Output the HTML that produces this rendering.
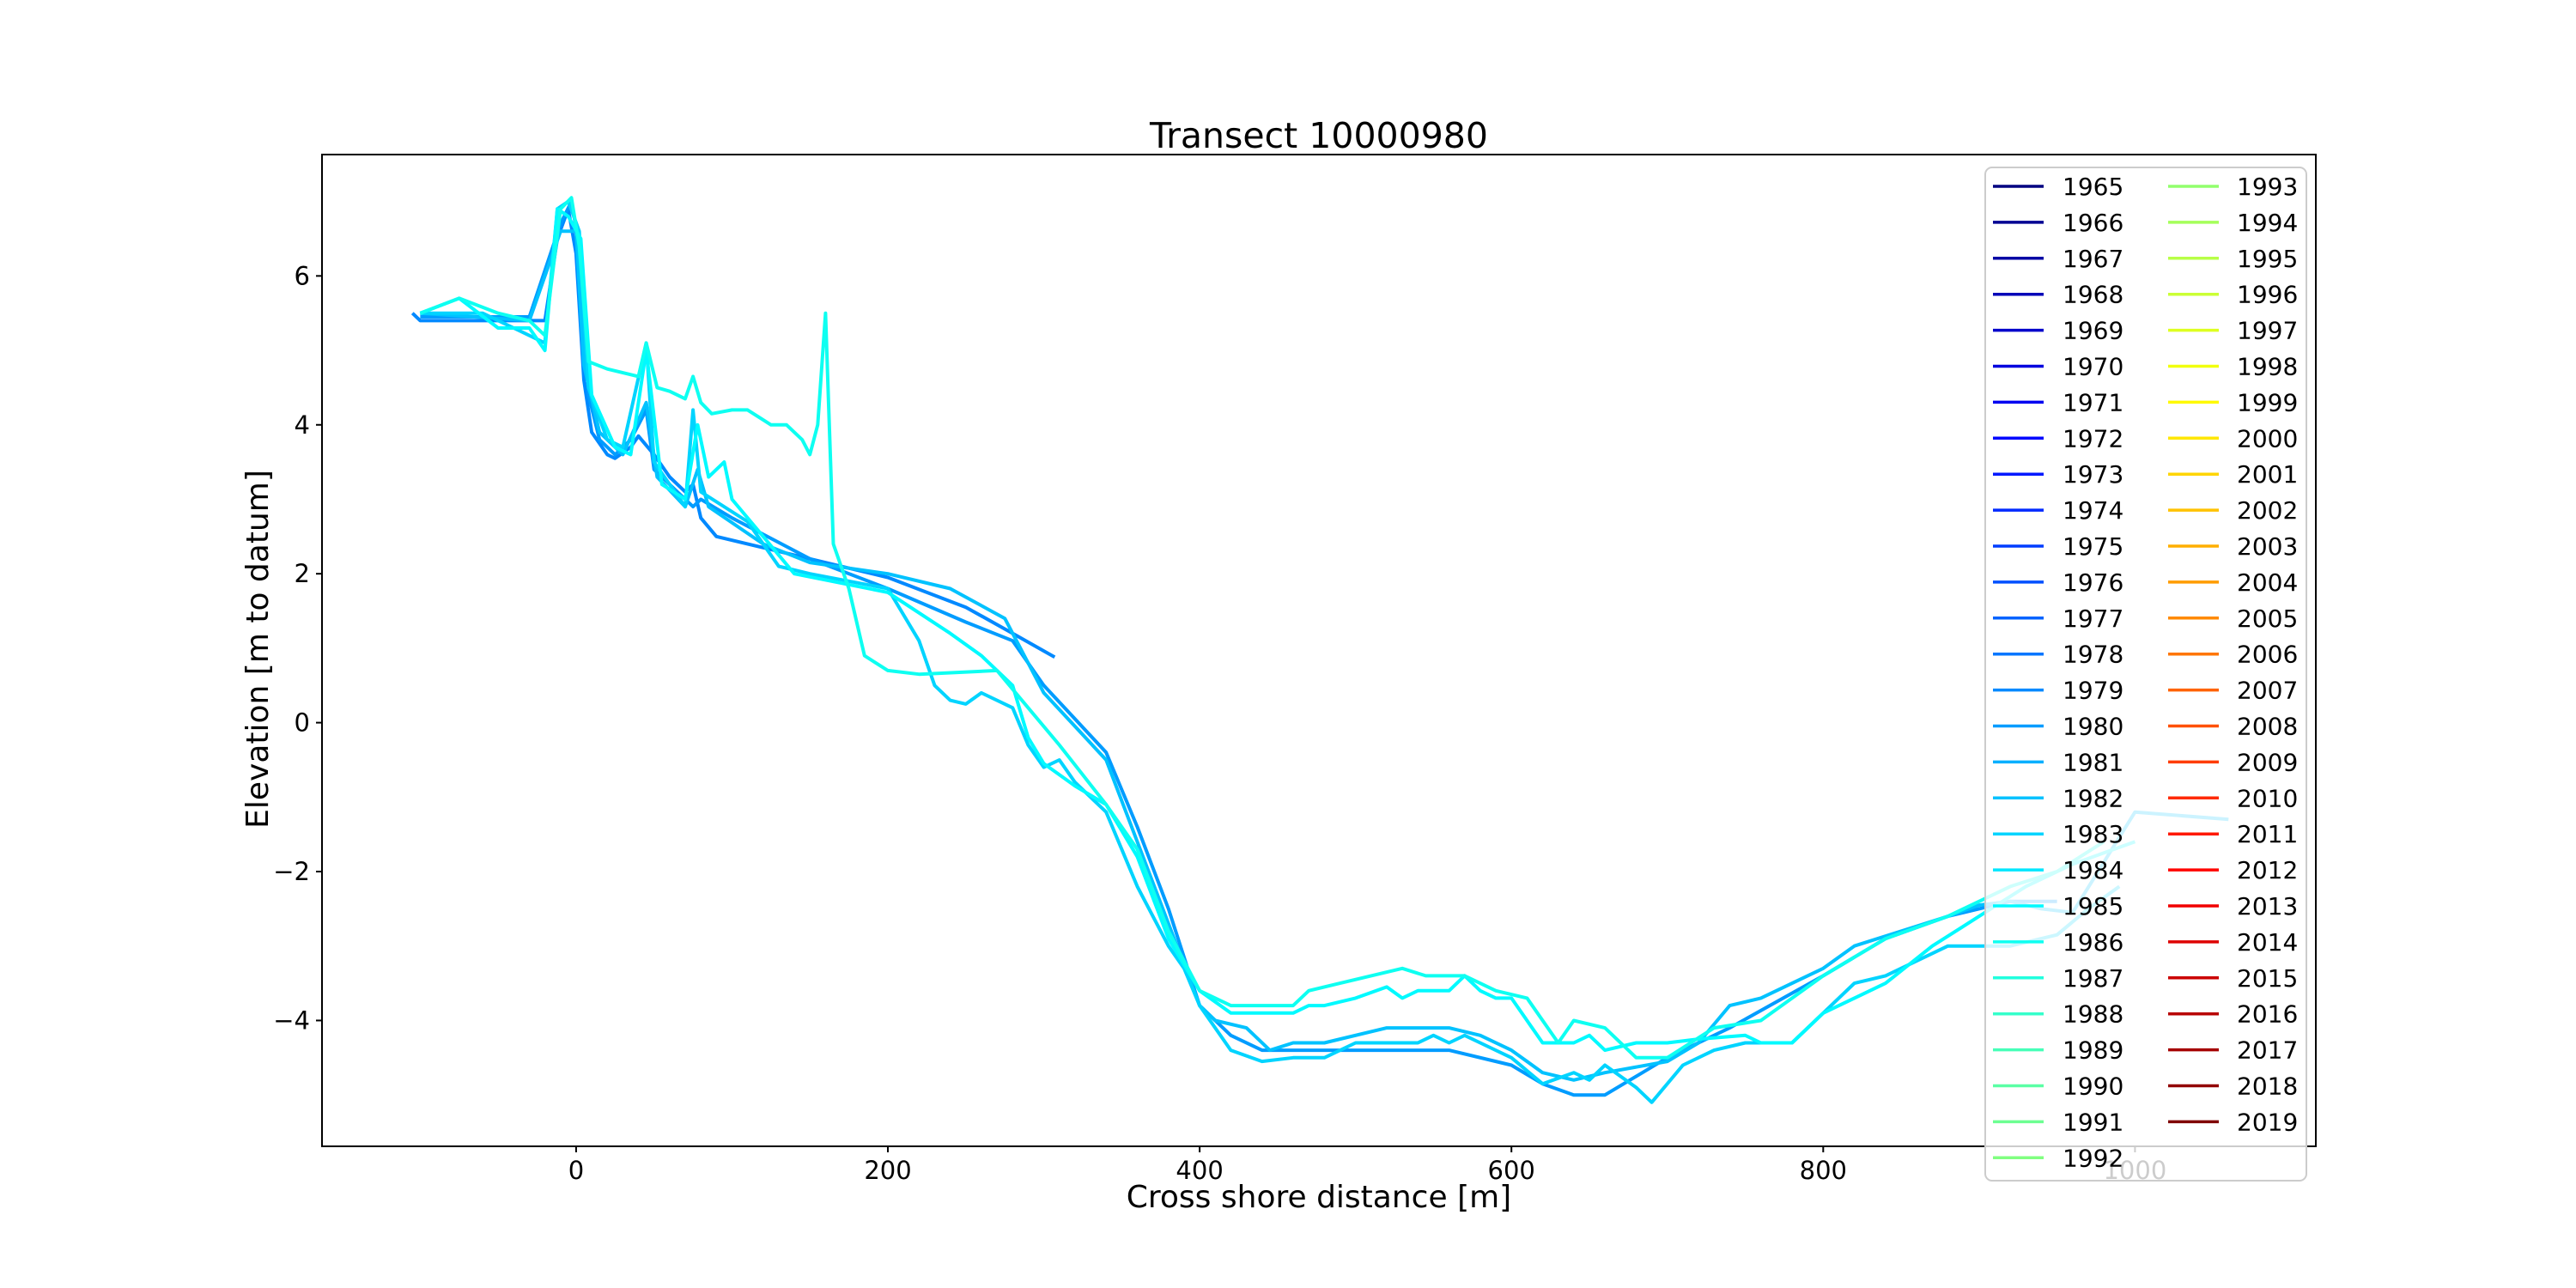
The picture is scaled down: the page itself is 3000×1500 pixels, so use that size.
<!DOCTYPE html>
<html><head><meta charset="utf-8"><style>
html,body{margin:0;padding:0;background:#fff;}
svg{display:block;font-family:"DejaVu Sans","Liberation Sans",sans-serif;}
</style></head><body>
<svg id="chart" width="3000" height="1500" viewBox="0 0 3000 1500" xmlns="http://www.w3.org/2000/svg">
<rect width="3000" height="1500" fill="#fff"/>
<text x="1536" y="172" font-size="41" text-anchor="middle">Transect 10000980</text>
<text x="1536" y="1406" font-size="36" text-anchor="middle">Cross shore distance [m]</text>
<text transform="translate(312,756) rotate(-90)" font-size="36" text-anchor="middle">Elevation [m to datum]</text>
<g id="series"></g>
<g id="axes"></g>
<g id="legend"></g>
</svg>
<script>
const xTicks=[0,200,400,600,800,1000];
const yTicks=[-4,-2,0,2,4,6];
const years=[];for(let y=1965;y<=2019;y++)years.push(y);
const seriesYears=[1979,1980,1982,1983,1985,1986];
const sA_x=[-105,-100,-30,-20,-12,-5,0,5,10,20,25,35,40,50,60,70,75,80,90,150,200,250,280,307];
const sA_y=[5.5,5.4,5.4,5.4,6.5,6.9,6.3,4.6,3.9,3.6,3.55,3.7,3.85,3.6,3.3,3.1,3.2,2.75,2.5,2.2,1.95,1.55,1.2,0.88];
const sB_x=[-100,-30,-10,-3,2,8,15,25,35,45,50,65,75,80,100,150,200,250,280,300,320,340,360,380,400,420,440,460,560,600,620,640,660,700,740,800,840,880,920,950];
const sB_y=[5.45,5.45,6.7,7.0,6.4,4.4,3.8,3.6,3.8,4.2,3.4,3.1,2.9,3.0,2.75,2.2,1.8,1.35,1.1,0.5,0.05,-0.4,-1.4,-2.5,-3.8,-4.2,-4.4,-4.4,-4.4,-4.6,-4.85,-5.0,-5.0,-4.5,-4.1,-3.4,-2.9,-2.6,-2.4,-2.4];
const sC_x=[-100,-30,-10,0,5,15,30,45,52,70,78,85,120,150,200,240,275,300,320,340,360,380,400,410,430,445,460,480,520,560,580,600,620,640,660,700,720,740,760,800,820,850,880,900,920,940,960,1000,1060];
const sC_y=[5.5,5.4,6.6,6.6,4.8,3.9,3.6,4.3,3.3,2.9,3.4,2.9,2.4,2.15,2.0,1.8,1.4,0.4,-0.05,-0.5,-1.6,-2.7,-3.8,-4.0,-4.1,-4.4,-4.3,-4.3,-4.1,-4.1,-4.2,-4.4,-4.7,-4.8,-4.7,-4.55,-4.3,-3.8,-3.7,-3.3,-3.0,-2.8,-2.6,-2.45,-2.4,-2.5,-2.55,-1.2,-1.3];
const sD_x=[-100,-60,-40,-20,-12,-5,2,8,20,30,45,50,70,75,80,110,130,150,200,220,230,240,250,260,280,290,300,310,320,340,360,380,390,400,420,440,460,480,500,540,550,560,570,580,600,620,640,650,660,680,690,710,730,750,780,800,820,840,880,920,950,970,990];
const sD_y=[5.5,5.5,5.3,5.1,6.9,7.0,6.6,4.5,3.8,3.7,5.1,3.5,2.9,4.2,3.1,2.7,2.1,2.0,1.8,1.1,0.5,0.3,0.25,0.4,0.2,-0.3,-0.6,-0.5,-0.8,-1.2,-2.2,-3.0,-3.3,-3.8,-4.4,-4.55,-4.5,-4.5,-4.3,-4.3,-4.2,-4.3,-4.2,-4.3,-4.5,-4.85,-4.7,-4.8,-4.6,-4.9,-5.1,-4.6,-4.4,-4.3,-4.3,-3.9,-3.5,-3.4,-3.0,-3.0,-2.85,-2.5,-2.2];
const sE_x=[-100,-75,-50,-30,-20,-12,-5,3,10,25,35,45,55,70,78,85,95,100,120,140,200,240,260,280,290,300,320,340,360,380,400,420,460,470,480,500,520,530,540,560,570,580,590,600,620,640,650,660,680,700,720,750,760,780,800,840,870,900,930,960,1000];
const sE_y=[5.5,5.7,5.3,5.3,5.0,6.9,6.8,6.5,4.4,3.7,3.6,5.0,3.2,3.0,4.0,3.3,3.5,3.0,2.5,2.0,1.75,1.2,0.9,0.5,-0.2,-0.55,-0.85,-1.1,-1.8,-2.9,-3.6,-3.9,-3.9,-3.8,-3.8,-3.7,-3.55,-3.7,-3.6,-3.6,-3.4,-3.6,-3.7,-3.7,-4.3,-4.3,-4.2,-4.4,-4.3,-4.3,-4.25,-4.2,-4.3,-4.3,-3.9,-3.5,-3.0,-2.6,-2.2,-1.9,-1.6];
const sF_x=[-100,-75,-50,-30,-20,-10,-3,2,8,20,40,45,52,60,70,75,80,87,100,110,125,135,145,150,155,160,165,175,185,200,220,270,290,310,340,360,380,400,420,460,470,490,510,530,545,570,590,610,630,640,660,680,700,730,760,800,840,880,920,950,980];
const sF_y=[5.5,5.7,5.5,5.4,5.2,6.9,7.05,6.4,4.85,4.75,4.65,5.1,4.5,4.45,4.35,4.65,4.3,4.15,4.2,4.2,4.0,4.0,3.8,3.6,4.0,5.5,2.4,1.8,0.9,0.7,0.65,0.7,0.2,-0.3,-1.1,-1.7,-2.8,-3.6,-3.8,-3.8,-3.6,-3.5,-3.4,-3.3,-3.4,-3.4,-3.6,-3.7,-4.3,-4.0,-4.1,-4.5,-4.5,-4.1,-4.0,-3.4,-2.9,-2.6,-2.2,-2.0,-1.6];
const seriesX=[sA_x,sB_x,sC_x,sD_x,sE_x,sF_x];
const seriesY=[sA_y,sB_y,sC_y,sD_y,sE_y,sF_y];

const L=375,R=2697,T=180,B=1335;
const xMin=-163,xMax=1116,yMin=-5.69,yMax=7.63;
const sx=v=>L+(v-xMin)/(xMax-xMin)*(R-L);
const sy=v=>B-(v-yMin)/(yMax-yMin)*(B-T);
function jet(t){const c=v=>Math.round(255*Math.max(0,Math.min(1,v)));
 return `rgb(${c(1.5-Math.abs(4*t-3))},${c(1.5-Math.abs(4*t-2))},${c(1.5-Math.abs(4*t-1))})`;}
const col=y=>jet((y-1965)/(2019-1965));
const NS="http://www.w3.org/2000/svg";
const mk=(tag,attrs,parent)=>{const e=document.createElementNS(NS,tag);for(const k in attrs)e.setAttribute(k,attrs[k]);parent.appendChild(e);return e;};
const gS=document.getElementById('series'),gA=document.getElementById('axes'),gL=document.getElementById('legend');
const defs=mk('defs',{},document.getElementById('chart'));
const cp=mk('clipPath',{id:'clip'},defs);mk('rect',{x:L,y:T,width:R-L,height:B-T},cp);
gS.setAttribute('clip-path','url(#clip)');
seriesX.forEach((xs,i)=>{
 const d=xs.map((x,j)=>(j?'L':'M')+sx(x).toFixed(1)+','+sy(seriesY[i][j]).toFixed(1)).join('');
 const p=mk('path',{d:d,fill:'none',stroke:col(seriesYears[i]),'stroke-width':4,'stroke-linejoin':'round'},gS);
 
 
});
const frame=mk('rect',{x:L,y:T,width:R-L,height:B-T,fill:'none',stroke:'#000','stroke-width':2},gA);


xTicks.forEach(v=>{
 const x=sx(v);mk('line',{x1:x,x2:x,y1:B,y2:B+7,stroke:'#000','stroke-width':2},gA);
 const t=mk('text',{x:x,y:B+38,'font-size':29,'text-anchor':'middle'},gA);t.textContent=v;
 
 
});
yTicks.forEach(v=>{
 const y=sy(v);mk('line',{x1:L-7,x2:L,y1:y,y2:y,stroke:'#000','stroke-width':2},gA);
 const t=mk('text',{x:L-14,y:y+10,'font-size':29,'text-anchor':'end'},gA);t.textContent=v<0?'\u2212'+(-v):v;
 
 
});
const box=mk('rect',{x:2312,y:195,width:374,height:1180,rx:8,fill:'rgba(255,255,255,0.8)',stroke:'#ccc','stroke-width':2},gL);


years.forEach((yr,i)=>{
 const colI=i<28?0:1,row=i<28?i:i-28;
 const yc=217+row*41.9;
 const lx=colI?2525:2321,tx=colI?2605:2402;
 const g=mk('g',{},gL);
 
 
 mk('line',{x1:lx,x2:lx+59,y1:yc,y2:yc,stroke:col(yr),'stroke-width':3.5},g);
 const t=mk('text',{x:tx,y:yc+10,'font-size':28},g);t.textContent=yr;
});
</script>
</body></html>
